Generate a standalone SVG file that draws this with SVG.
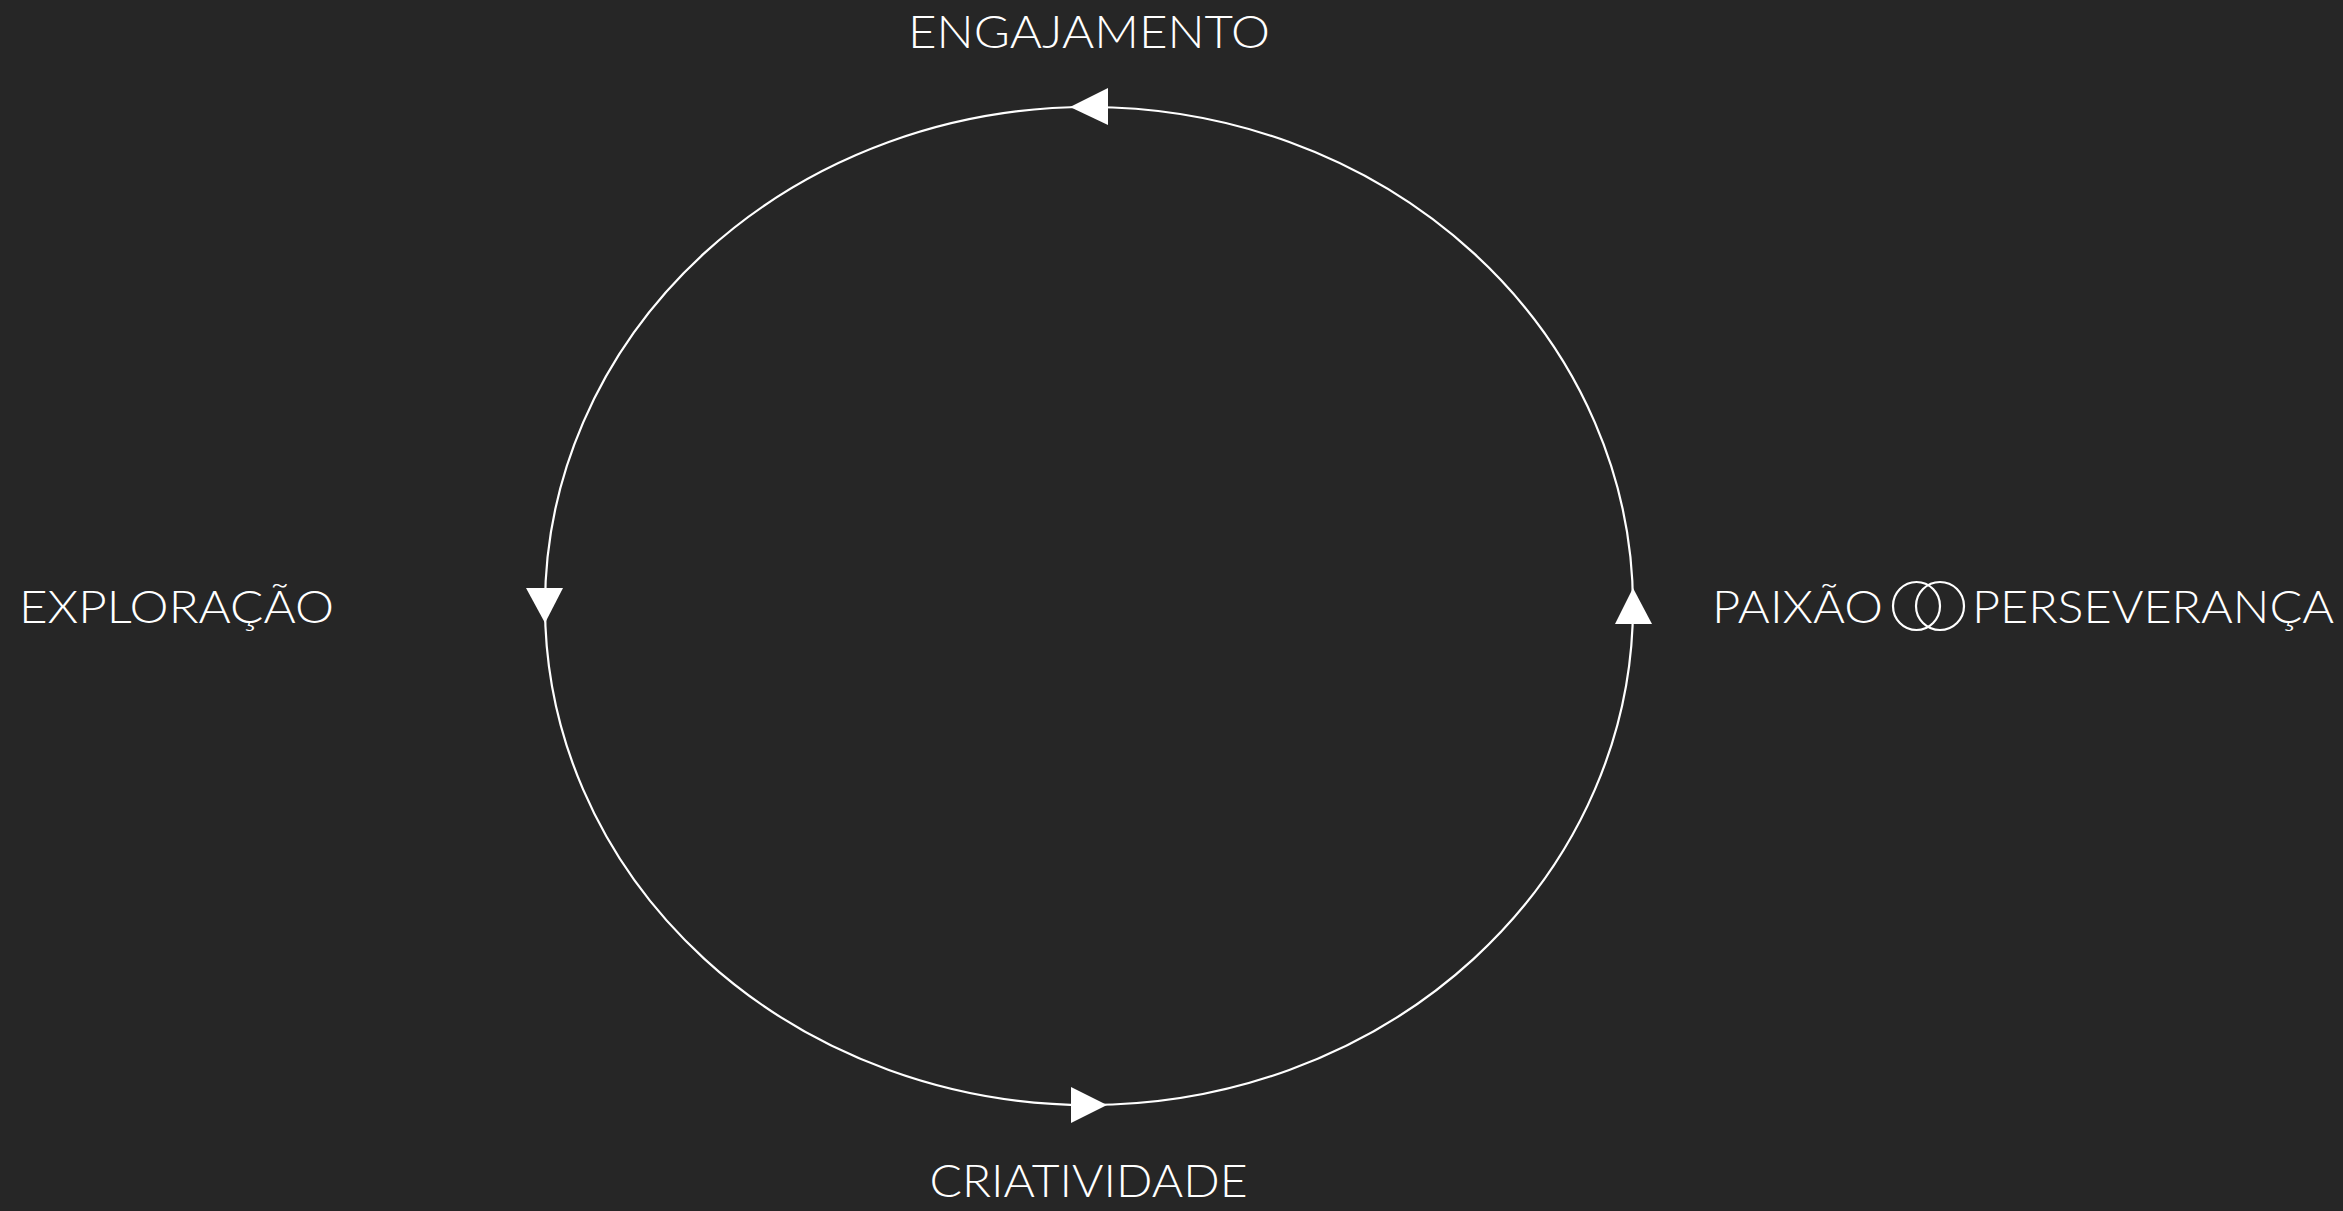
<svg xmlns="http://www.w3.org/2000/svg" width="2343" height="1211" viewBox="0 0 2343 1211">
<style>
.lbl{font-family:Lato,"Liberation Sans",sans-serif;font-weight:300;font-size:45px;fill:#ffffff}
.edge{fill:none;stroke:#ffffff;stroke-width:2.2}
.ring{fill:none;stroke:#ffffff;stroke-width:2.2}
.head{fill:#ffffff}
</style>
<rect width="2343" height="1211" fill="#262626"/>
<g id="connectors">
<ellipse class="edge" cx="1089" cy="606" rx="544" ry="499"/>
<polygon class="head" points="1070,107 1108,88 1108,125"/>
<polygon class="head" points="545,623 526,588 563,588"/>
<polygon class="head" points="1107,1105 1071,1087 1071,1123"/>
<polygon class="head" points="1633,588 1615,624 1652,624"/>
</g>
<g id="engajamento"><text class="lbl" x="1089" y="48" text-anchor="middle" textLength="362" lengthAdjust="spacingAndGlyphs">ENGAJAMENTO</text></g>
<g id="criatividade"><text class="lbl" x="1088.5" y="1197" text-anchor="middle" textLength="318" lengthAdjust="spacingAndGlyphs">CRIATIVIDADE</text></g>
<g id="exploracao"><text class="lbl" x="19" y="623" textLength="315" lengthAdjust="spacingAndGlyphs">EXPLORAÇÃO</text></g>
<g id="paixao-perseveranca">
<text class="lbl" x="1712" y="623" textLength="171" lengthAdjust="spacingAndGlyphs">PAIXÃO</text>
<ellipse class="ring" cx="1916.5" cy="606" rx="23.5" ry="24"/>
<ellipse class="ring" cx="1940" cy="606" rx="24" ry="24"/>
<text class="lbl" x="1972" y="623" textLength="362" lengthAdjust="spacingAndGlyphs">PERSEVERANÇA</text>
</g>
</svg>
